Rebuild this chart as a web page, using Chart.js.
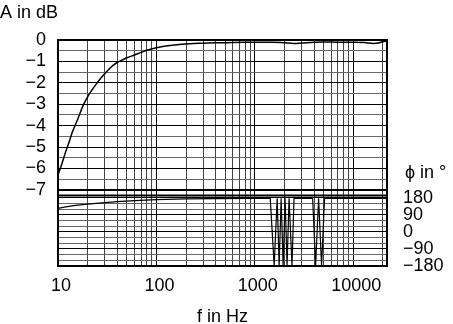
<!DOCTYPE html>
<html>
<head>
<meta charset="utf-8">
<script src="https://cdn.jsdelivr.net/npm/chart.js@4.4.1/dist/chart.umd.min.js"></script>
<style>
  html, body { margin: 0; padding: 0; background: #fff; }
  canvas { display: block; }
</style>
</head>
<body>
<canvas id="bode" width="453" height="324"></canvas>
<script>
// amplitude response (dB) over frequency (Hz)
const ampFreq = [10, 11, 12, 13, 14, 16, 18, 20, 22, 25, 28, 32, 36, 40, 45, 50, 60, 70, 80, 100,
                 130, 170, 220, 300, 400, 600, 800, 1000, 1500, 2000, 2500, 3000, 4000, 5000, 7000,
                 10000, 13000, 16000, 18000, 20000, 22050];
const ampDb = [-6.3, -5.75, -5.2, -4.75, -4.3, -3.65, -3.05, -2.65, -2.35, -2.0, -1.72, -1.42, -1.2, -1.05, -0.93, -0.83, -0.7, -0.58, -0.48, -0.36,
               -0.27, -0.21, -0.17, -0.15, -0.13, -0.12, -0.11, -0.1, -0.1, -0.13, -0.16, -0.14, -0.1, -0.09, -0.1,
               -0.1, -0.12, -0.16, -0.14, -0.08, -0.05];

// phase response (degrees), wrapped to ±180
const phaseFreq = [10, 12, 15, 20, 30, 40, 60, 100, 200, 400, 1000, 1435, 1574, 1688, 1768, 1852, 1940, 2032,
                   2128, 2229, 2389, 2502, 3000, 3871, 4150, 4449, 4770, 5114, 8000, 12000, 16000, 20000, 22050];
const phaseDeg = [125, 133, 141, 148, 156, 161, 166, 171, 175, 177, 178, 178, -178, 178, -178, 178, -178, 178,
                  -178, 178, -178, 178, 178, 178, -178, 178, -178, 178, 178, 178, 178, 178, 178];

// axis ticks
const freqTicks = [10, 20, 30, 40, 50, 60, 70, 80, 90, 100, 200, 300, 400, 500, 600, 700, 800, 900,
                   1000, 2000, 3000, 4000, 5000, 6000, 7000, 8000, 9000, 10000, 20000];
const freqLabels = [10, 100, 1000, 10000];
const dbTicks = [0, -0.5, -1, -1.5, -2, -2.5, -3, -3.5, -4, -4.5, -5, -5.5, -6, -6.5, -7];
const degTicks = [180, 150, 120, 90, 60, 30, 0, -30, -60, -90, -120, -150, -180];
const degLabels = [180, 90, 0, -90, -180];

const MINUS = '\u2212';
const fmt = v => (v < 0 ? MINUS + Math.abs(v) : String(v));

// amplitude panel runs a little past -7 dB, phase panel sits right under it
const AMP_MIN = -7.26;
const PH_MAX = 193.2;
const AMP_H = 155.5, PH_H = 70.5;

const setTicks = list => s => { s.ticks = list.map(v => ({ value: v })); };
const setWidth = w => s => { s.width = w; };
const hidden = { grid: { display: false }, ticks: { display: false }, border: { display: false } };

Chart.defaults.font.family = '"Liberation Sans", Arial, sans-serif';
Chart.defaults.font.size = 18;
Chart.defaults.color = '#000';

const frame = {
  id: 'frame',
  afterDraw(chart) {
    const { ctx, chartArea: a, scales } = chart;
    ctx.save();
    ctx.strokeStyle = '#000';
    ctx.lineWidth = 2;
    ctx.strokeRect(a.left, a.top, a.right - a.left, a.bottom - a.top);
    ctx.beginPath();
    ctx.moveTo(a.left, scales.y.bottom);
    ctx.lineTo(a.right, scales.y.bottom);
    ctx.stroke();
    ctx.font = '18px "Liberation Sans", Arial, sans-serif';
    ctx.fillStyle = '#000';
    ctx.textBaseline = 'alphabetic';
    ctx.fillText('\u03d5 in \u00b0', a.right + 18, scales.p.top - 18);
    ctx.restore();
  }
};

new Chart(document.getElementById('bode'), {
  type: 'line',
  data: {
    datasets: [
      {
        data: ampFreq.map((f, i) => ({ x: f, y: ampDb[i] })),
        yAxisID: 'y',
        borderColor: '#000',
        borderWidth: 1.5,
        pointRadius: 0,
        cubicInterpolationMode: 'monotone'
      },
      {
        data: phaseFreq.map((f, i) => ({ x: f, y: phaseDeg[i] })),
        yAxisID: 'p',
        borderColor: '#000',
        borderWidth: 1.2,
        pointRadius: 0
      }
    ]
  },
  options: {
    responsive: false,
    animation: false,
    devicePixelRatio: 1,
    layout: { padding: 0 },
    plugins: {
      legend: { display: false },
      tooltip: { enabled: false },
      title: {
        display: true,
        text: 'A in dB',
        align: 'start',
        color: '#000',
        font: { size: 18, weight: 'normal' },
        padding: { top: 2, bottom: 16.4 }
      }
    },
    scales: {
      x: {
        type: 'logarithmic',
        min: 10,
        max: 22050,
        afterBuildTicks: setTicks(freqTicks),
        afterFit: s => { s.height = 58; },
        grid: {
          color: c => (freqLabels.includes(c.tick.value) ? '#000' : '#444'),
          lineWidth: 1,
          drawTicks: false
        },
        border: { display: false },
        ticks: {
          autoSkip: false,
          maxRotation: 0,
          padding: 9,
          labelOffset: 3,
          callback: v => (freqLabels.includes(v) ? String(v) : '')
        },
        title: { display: true, text: 'f in Hz', padding: { top: 0, bottom: -4 } }
      },
      y: {
        position: 'left',
        stack: 'v',
        stackWeight: AMP_H,
        weight: 1,
        min: AMP_MIN,
        max: 0,
        afterBuildTicks: setTicks(dbTicks),
        afterFit: setWidth(58),
        grid: {
          color: c => (Number.isInteger(c.tick.value) ? '#000' : '#666'),
          lineWidth: c => (c.tick.value === -7 ? 2 : 1),
          drawTicks: false
        },
        border: { display: false },
        ticks: {
          autoSkip: false,
          padding: 12,
          callback: v => (Number.isInteger(v) ? fmt(v) : '')
        }
      },
      p0: {
        position: 'left',
        stack: 'v',
        stackWeight: PH_H,
        weight: 0,
        min: -180,
        max: PH_MAX,
        afterFit: setWidth(58),
        ...hidden
      },
      y1: {
        position: 'right',
        stack: 'v',
        stackWeight: AMP_H,
        weight: 0,
        min: AMP_MIN,
        max: 0,
        afterFit: setWidth(66),
        ...hidden
      },
      p: {
        position: 'right',
        stack: 'v',
        stackWeight: PH_H,
        weight: 1,
        min: -180,
        max: PH_MAX,
        afterBuildTicks: setTicks(degTicks),
        afterFit: setWidth(66),
        grid: {
          color: c => (c.tick.value % 90 === 0 ? '#000' : '#666'),
          lineWidth: 1,
          drawTicks: false
        },
        border: { display: false },
        ticks: {
          autoSkip: false,
          padding: 16,
          callback: v => (degLabels.includes(v) ? fmt(v) : '')
        }
      }
    }
  },
  plugins: [frame]
});
</script>
</body>
</html>
